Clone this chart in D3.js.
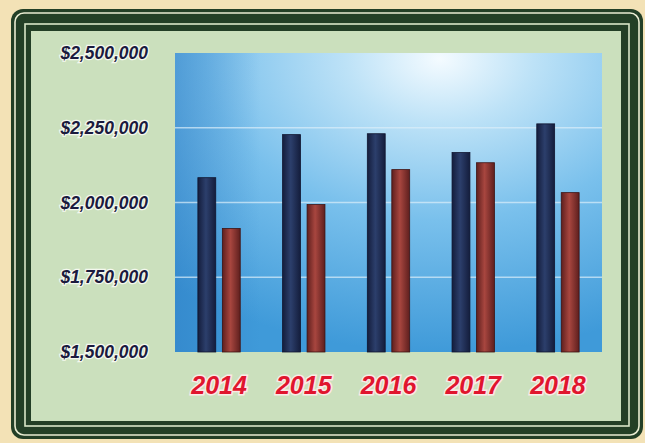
<!DOCTYPE html>
<html lang="en">
<head>
<meta charset="utf-8">
<title>Chart</title>
<script src="https://cdn.jsdelivr.net/npm/d3@7"></script>
<style>
  html, body { margin: 0; padding: 0; background: #f3e2b6; }
  svg { display: block; }
</style>
</head>
<body>
<script type="text/javascript">

// chart values
var years = ["2014", "2015", "2016", "2017", "2018"];
var darkSeries = [2083000, 2227000, 2230000, 2167000, 2263000];
var redSeries  = [1913000, 1993000, 2110000, 2133000, 2033000];
var yTicks = [1500000, 1750000, 2000000, 2250000, 2500000];

var width = 645, height = 443;
var plot = {left: 175, top: 53, right: 602, bottom: 352};

var svg = d3.select("body").append("svg")
            .attr("width", width)
            .attr("height", height);

var defs = svg.append("defs");

// plot background: blue with a light glare at the top
var bg = defs.append("radialGradient").attr("id", "bgGrad")
  .attr("cx", "0.62").attr("cy", "0").attr("r", "1")
  .attr("fx", "0.62").attr("fy", "0.02");
bg.append("stop").attr("offset", "0").attr("stop-color", "#f4fbff");
bg.append("stop").attr("offset", "0.22").attr("stop-color", "#bde2f7");
bg.append("stop").attr("offset", "0.55").attr("stop-color", "#79c0ec");
bg.append("stop").attr("offset", "1").attr("stop-color", "#3f9ad9");

var leftShade = defs.append("linearGradient").attr("id", "leftShade")
  .attr("x1", "0").attr("x2", "1").attr("y1", "0").attr("y2", "0");
leftShade.append("stop").attr("offset", "0").attr("stop-color", "#2a78c0").attr("stop-opacity", 0.45);
leftShade.append("stop").attr("offset", "0.2").attr("stop-color", "#2a78c0").attr("stop-opacity", 0);

// bar shading (cylinder look)
function barGrad(id, edge, mid) {
  var g = defs.append("linearGradient").attr("id", id)
    .attr("x1", "0").attr("x2", "1").attr("y1", "0").attr("y2", "0");
  g.append("stop").attr("offset", "0").attr("stop-color", edge);
  g.append("stop").attr("offset", "0.45").attr("stop-color", mid);
  g.append("stop").attr("offset", "1").attr("stop-color", edge);
}
barGrad("navyGrad", "#141d3c", "#2c3f6c");
barGrad("redGrad", "#5e1f1e", "#a8463f");

// frame
svg.append("rect").attr("x", 11).attr("y", 9).attr("width", 632).attr("height", 430)
   .attr("rx", 12).attr("fill", "#233f26");
svg.append("rect").attr("x", 15).attr("y", 13).attr("width", 624).attr("height", 422)
   .attr("rx", 9).attr("fill", "none").attr("stroke", "#e9ecd2").attr("stroke-width", 1.6);
svg.append("rect").attr("x", 25).attr("y", 24).attr("width", 604).attr("height", 402)
   .attr("fill", "none").attr("stroke", "#d9e6c8").attr("stroke-width", 1.6);
svg.append("rect").attr("x", 31).attr("y", 31).attr("width", 590).attr("height", 390)
   .attr("fill", "#cbe0bd");

// plot area
svg.append("rect")
   .attr("x", plot.left).attr("y", plot.top)
   .attr("width", plot.right - plot.left).attr("height", plot.bottom - plot.top)
   .attr("fill", "url(#bgGrad)");
svg.append("rect")
   .attr("x", plot.left).attr("y", plot.top)
   .attr("width", plot.right - plot.left).attr("height", plot.bottom - plot.top)
   .attr("fill", "url(#leftShade)");

var y = d3.scaleLinear()
          .domain([1500000, 2500000])
          .range([plot.bottom, plot.top]);

var x0 = d3.scaleBand()
           .domain(years)
           .range([plot.left, plot.right])
           .paddingInner(0.5)
           .paddingOuter(0.27);

var x1 = d3.scaleBand()
           .domain([0, 1])
           .range([0, x0.bandwidth()])
           .paddingInner(0.27);

// gridlines
svg.append("g").selectAll("line")
   .data(yTicks.slice(1, 4))
   .enter().append("line")
   .attr("x1", plot.left).attr("x2", plot.right)
   .attr("y1", function(d) { return y(d); })
   .attr("y2", function(d) { return y(d); })
   .attr("stroke", "#dceefa").attr("stroke-opacity", 0.7).attr("stroke-width", 1.5);

// bars
var groups = svg.append("g").selectAll("g")
   .data(years)
   .enter().append("g")
   .attr("transform", function(d) { return "translate(" + x0(d) + ",0)"; });

groups.append("rect")
   .attr("x", x1(0))
   .attr("y", function(d, i) { return y(darkSeries[i]); })
   .attr("width", x1.bandwidth())
   .attr("height", function(d, i) { return y(1500000) - y(darkSeries[i]); })
   .attr("fill", "url(#navyGrad)")
   .attr("stroke", "#0f1530").attr("stroke-width", 0.8);

groups.append("rect")
   .attr("x", x1(1))
   .attr("y", function(d, i) { return y(redSeries[i]); })
   .attr("width", x1.bandwidth())
   .attr("height", function(d, i) { return y(1500000) - y(redSeries[i]); })
   .attr("fill", "url(#redGrad)")
   .attr("stroke", "#3e1212").attr("stroke-width", 0.8);

// y axis labels
var fmt = d3.format("$,");
var yAxis = d3.axisLeft(y).tickValues(yTicks).tickFormat(fmt).tickSize(0).tickPadding(27);
var yg = svg.append("g").attr("transform", "translate(" + plot.left + ",0)").call(yAxis);
yg.select(".domain").remove();
yg.selectAll("text")
  .attr("font-family", "Liberation Sans, Arial, sans-serif")
  .attr("font-size", 17.5)
  .attr("font-weight", "bold")
  .attr("font-style", "italic")
  .attr("fill", "#1b1b3e")
  .attr("stroke", "#f4f8ee").attr("stroke-width", 2.5)
  .attr("paint-order", "stroke");

// x axis labels
var xAxis = d3.axisBottom(x0).tickSize(0).tickPadding(24);
var xg = svg.append("g").attr("transform", "translate(0," + plot.bottom + ")").call(xAxis);
xg.select(".domain").remove();
xg.selectAll("text")
  .attr("font-family", "Liberation Sans, Arial, sans-serif")
  .attr("font-size", 25)
  .attr("font-weight", "bold")
  .attr("font-style", "italic")
  .attr("fill", "#e0152e")
  .attr("stroke", "#fbe9e6").attr("stroke-width", 3)
  .attr("paint-order", "stroke");

</script>
</body>
</html>
